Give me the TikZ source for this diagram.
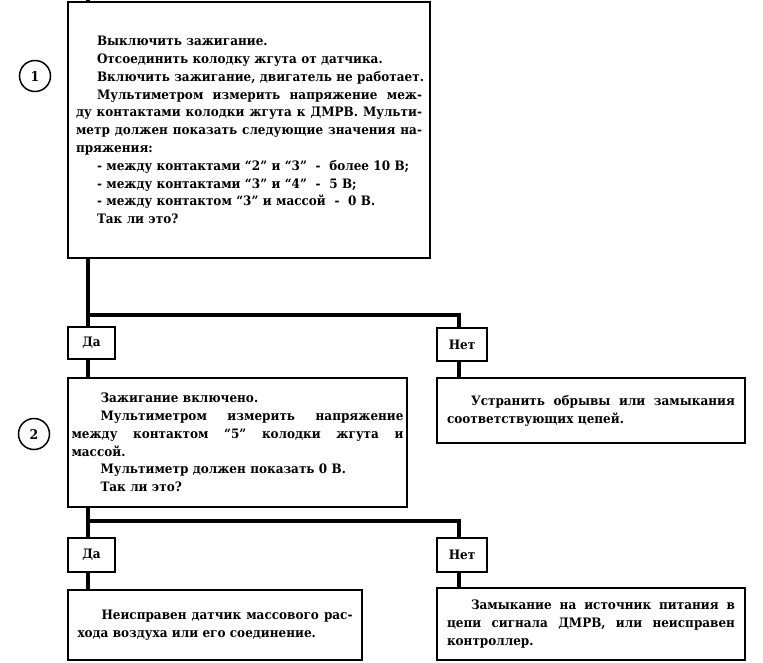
\documentclass[tikz,border=0pt]{standalone}
\usepackage{fontspec}
\setmainfont{DejaVu Serif}[FakeStretch=0.925]
\setlength{\parindent}{0pt}
\newcommand\jl[3]{\leavevmode\hbox to #1{\spaceskip=\fontdimen2\font plus 1fil\relax
  \xspaceskip=\spaceskip\hspace*{#2}#3}}
\newcommand\il[2]{\mbox{\hspace*{#1}#2}}
\begin{document}
\begin{tikzpicture}[x=1pt,y=-1pt,
  box/.style={draw, line width=1.5pt, fill=white, inner sep=0pt, align=left,
    font=\fontsize{13}{17.8}\selectfont\bfseries},
  yn/.style={draw, line width=1.5pt, fill=white, inner sep=0pt,
    font=\fontsize{13}{15}\selectfont\bfseries},
  conn/.style={line width=4.5pt},
  num/.style={draw, circle, line width=1.5pt, minimum size=31pt, inner sep=0pt,
    font=\fontsize{13.5}{15}\selectfont\bfseries}]
\useasboundingbox (0,0) rectangle (763,662);

\coordinate (t0) at (88,0);
\coordinate (j1) at (88,315);
\coordinate (k1) at (459,315);
\coordinate (j2) at (88,521);
\coordinate (k2) at (459,521);

\path (249,130) coordinate (b1c) (91.5,343) coordinate (y1c) (462,344.5) coordinate (n1c)
      (237.5,442.5) coordinate (b2c) (591,410.5) coordinate (r1c)
      (91.5,555) coordinate (y2c) (462,555) coordinate (n2c)
      (215,625) coordinate (b3c) (591,624) coordinate (r2c);

\node[box, minimum width=362pt, minimum height=256pt, text width=346pt] at (b1c) (b1) {%
\il{21pt}{Выключить зажигание.}\\
\il{21pt}{Отсоединить колодку жгута от датчика.}\\
\il{21pt}{Включить зажигание, двигатель не работает.}\\
\jl{346pt}{21pt}{Мультиметром измерить напряжение меж-}\\
\jl{346pt}{0pt}{ду контактами колодки жгута к ДМРВ. Мульти-}\\
\jl{346pt}{0pt}{метр должен показать следующие значения на-}\\
пряжения:\\
\il{21pt}{- между контактами “2” и “3”\ \ -\ \ более 10 В;}\\
\il{21pt}{- между контактами “3” и “4”\ \ -\ \ 5 В;}\\
\il{21pt}{- между контактом “3” и массой\ \ -\ \ 0 В.}\\
\il{21pt}{Так ли это?}};

\node[yn, minimum width=47pt, minimum height=32pt] at (y1c) (y1) {Да};
\node[yn, minimum width=50pt, minimum height=33pt] at (n1c) (n1) {Нет};

\node[box, minimum width=339pt, minimum height=129pt, text width=332pt] at (b2c) (b2) {%
\il{29pt}{Зажигание включено.}\\
\jl{332pt}{29pt}{Мультиметром измерить напряжение}\\
\jl{332pt}{0pt}{между контактом “5” колодки жгута и}\\
массой.\\
\il{29pt}{Мультиметр должен показать 0 В.}\\
\il{29pt}{Так ли это?}};

\node[box, minimum width=308pt, minimum height=65pt, text width=288pt] at (r1c) (r1) {%
\jl{288pt}{24pt}{Устранить обрывы или замыкания}\\
соответствующих цепей.};

\node[yn, minimum width=47pt, minimum height=34pt] at (y2c) (y2) {Да};
\node[yn, minimum width=50pt, minimum height=34pt] at (n2c) (n2) {Нет};

\node[box, minimum width=294pt, minimum height=70pt, text width=275pt] at (b3c) (b3) {%
\jl{275pt}{24pt}{Неисправен датчик массового рас-}\\
хода воздуха или его соединение.};

\node[box, minimum width=308pt, minimum height=72pt, text width=288pt] at (r2c) (r2) {%
\jl{288pt}{24pt}{Замыкание на источник питания в}\\
\jl{288pt}{0pt}{цепи сигнала ДМРВ, или неисправен}\\
контроллер.};

% connectors (they end exactly on the box borders)
\draw[conn] (t0) -- (t0 |- b1.north);
\draw[conn] (b1.south -| j1) -- (j1 |- y1.north);
\draw[conn, line join=miter] (j1) -- (k1) -- (k1 |- n1.north);
\draw[conn] (y1.south -| j1) -- (j1 |- b2.north);
\draw[conn] (n1.south -| k1) -- (k1 |- r1.north);
\draw[conn] (b2.south -| j2) -- (j2 |- y2.north);
\draw[conn, line join=miter] (j2) -- (k2) -- (k2 |- n2.north);
\draw[conn] (y2.south -| j2) -- (j2 |- b3.north);
\draw[conn] (n2.south -| k2) -- (k2 |- r2.north);

\node[num] (c1) at (35,76) {1};
\node[num] (c2) at (34,434) {2};
\end{tikzpicture}
\end{document}
